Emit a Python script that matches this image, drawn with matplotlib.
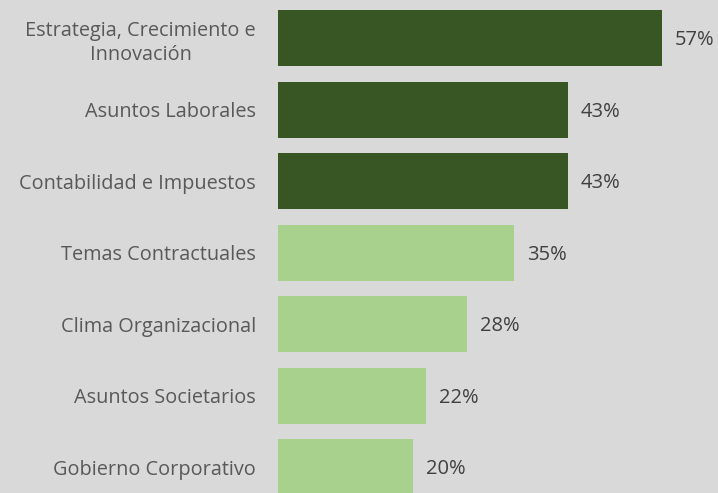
import matplotlib
matplotlib.use("Agg")
import matplotlib.pyplot as plt
from matplotlib.transforms import offset_copy

categories = ["Estrategia, Crecimiento e\nInnovación", "Asuntos Laborales",
              "Contabilidad e Impuestos", "Temas Contractuales",
              "Clima Organizacional", "Asuntos Societarios", "Gobierno Corporativo"]
values = [57, 43, 43, 35, 28, 22, 20]
colors = ["#375623", "#375623", "#375623", "#a9d18e", "#a9d18e", "#a9d18e", "#a9d18e"]

plt.rcParams['font.family'] = ['Open Sans', 'DejaVu Sans']
bg = "#d9d9d9"
fig = plt.figure(figsize=(7.18, 4.93), dpi=100, facecolor=bg)
ax = fig.add_axes([278/718, 0, 440/718, 1])
ax.set_facecolor(bg)
y = list(range(len(categories)))
ax.barh(y, values, height=56/71.5, color=colors)
ax.set_xlim(0, 440/6.74)
ax.set_ylim(6 + 26/71.5, -38/71.5)
ax.set_yticks(y)
ax.set_yticklabels(categories, fontsize=14.3, color="#595959", multialignment='center',
                   linespacing=1.3)
ax.tick_params(axis='y', length=0, pad=16)
ax.set_xticks([])
for s in ax.spines.values():
    s.set_visible(False)
trans = offset_copy(ax.transData, fig=fig, x=13, y=-2, units='dots')
for yi, v in zip(y, values):
    ax.text(v, yi, f"{v}%", transform=trans, va='center', ha='left', fontsize=14.5, color="#404040")
fig.savefig("out.png", dpi=100, facecolor=bg)
